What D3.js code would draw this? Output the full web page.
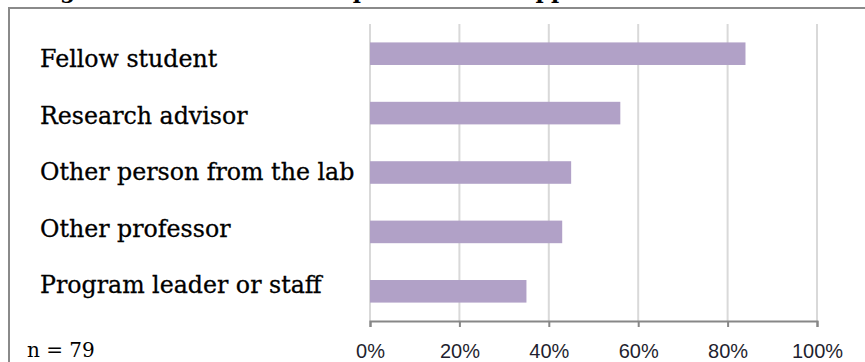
<!DOCTYPE html>
<html>
<head>
<meta charset="utf-8">
<script src="https://cdn.jsdelivr.net/npm/d3@7"></script>
<style>
  html, body { margin: 0; padding: 0; background: #fff; }
  svg { display: block; }
</style>
</head>
<body>
<svg id="chart" width="865" height="362"></svg>
<script>
const categories = ["Fellow student", "Research advisor", "Other person from the lab", "Other professor", "Program leader or staff"];
const values = [0.84, 0.56, 0.45, 0.43, 0.35];
const tickValues = [0, 0.2, 0.4, 0.6, 0.8, 1.0];
const tickLabels = ["0%", "20%", "40%", "60%", "80%", "100%"];
const titleText = "Figure 4: Sources of Receptive Social Support from Students";
const noteText = "n = 79";

const svg = d3.select("#chart");
const W = 865, H = 362;

// frame (box border, bottom/right cut off)
svg.append("path")
  .attr("d", `M9,${H} L9,8 L${W},8`)
  .attr("fill", "none").attr("stroke", "#8a8a8a").attr("stroke-width", 2);

// cut-off title (only its lower edge is visible in the reference)
svg.append("text")
  .attr("x", 36).attr("y", -2)
  .attr("font-family", "DejaVu Serif, serif")
  .attr("font-weight", "bold")
  .attr("font-size", 22)
  .attr("fill", "#000")
  .text(titleText);

const x = d3.scaleLinear().domain([0, 1]).range([370, 817]);
const y = d3.scaleBand().domain(categories).range([24, 321]).paddingInner(0.62).paddingOuter(0.31);
const yLab = d3.scalePoint().domain(categories).range([67, 293]);

// gridlines
svg.append("g").selectAll("line").data(tickValues).join("line")
  .attr("x1", d => x(d)).attr("x2", d => x(d))
  .attr("y1", 24).attr("y2", 321)
  .attr("stroke", "#d9d9d9").attr("stroke-width", 2);

// bars
svg.append("g").selectAll("rect").data(categories).join("rect")
  .attr("x", x(0))
  .attr("y", d => y(d))
  .attr("width", (d, i) => x(values[i]) - x(0))
  .attr("height", y.bandwidth())
  .attr("fill", "#b1a1c7");

// category labels
svg.append("g").selectAll("text").data(categories).join("text")
  .attr("x", 40)
  .attr("y", d => yLab(d))
  .attr("font-family", "DejaVu Serif, serif")
  .attr("font-size", 23.7)
  .attr("fill", "#000")
  .attr("stroke", "#000").attr("stroke-width", 0.3)
  .text(d => d);

// x axis
const xAxis = d3.axisBottom(x).tickValues(tickValues).tickFormat((d, i) => tickLabels[i]).tickSize(6).tickSizeOuter(6);
const gx = svg.append("g").attr("transform", "translate(0,321)").call(xAxis);
gx.select(".domain").attr("stroke", "#878787").attr("stroke-width", 2);
gx.selectAll(".tick line").attr("stroke", "#878787").attr("stroke-width", 2);
gx.selectAll(".tick text")
  .attr("y", 0).attr("dy", null)
  .attr("transform", "translate(0,37)")
  .attr("font-family", "Liberation Sans, Arial, sans-serif")
  .attr("font-size", 20)
  .attr("fill", "#1f1f2f");

// note
svg.append("text")
  .attr("x", 27).attr("y", 357)
  .attr("font-family", "DejaVu Serif, serif")
  .attr("font-size", 20)
  .attr("fill", "#000")
  .text(noteText);
</script>
</body>
</html>
